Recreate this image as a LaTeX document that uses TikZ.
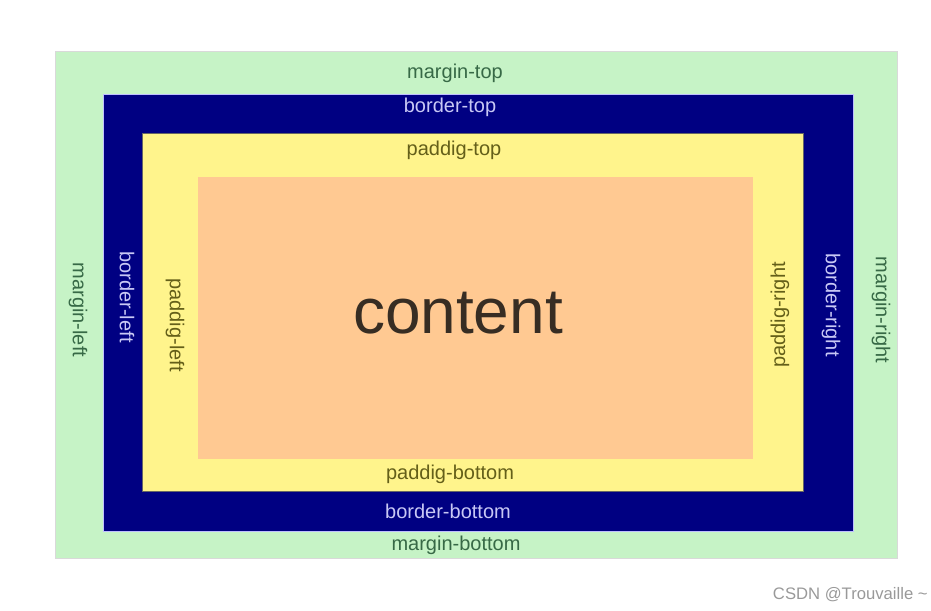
\documentclass[tikz,border=0pt]{standalone}
\usepackage{fontspec}
\setmainfont{Liberation Sans}
\usepackage{xcolor}
\usepackage{tikz}

\definecolor{margfill}{RGB}{198,243,198}
\definecolor{bordfill}{RGB}{0,0,130}
\definecolor{padfill}{RGB}{255,244,140}
\definecolor{contfill}{RGB}{255,201,146}
\definecolor{margtext}{RGB}{55,105,70}
\definecolor{bordtext}{RGB}{200,200,245}
\definecolor{padtext}{RGB}{100,95,25}
\definecolor{conttext}{RGB}{55,45,35}

\begin{document}
\begin{tikzpicture}[
      x=0.75pt, y=-0.75pt,
      lbl/.style={inner sep=0pt, font=\fontsize{15}{18}\selectfont},
      marglbl/.style={lbl, text=margtext},
      bordlbl/.style={lbl, text=bordtext},
      padlbl/.style={lbl, text=padtext}
    ]
    \useasboundingbox (0,0) rectangle (931,610);
    % the four boxes, outside in
    \fill[margfill, draw=black!15] (55,51) rectangle (897,558);
    \fill[bordfill, draw=blue!25] (103,94) rectangle (853,531);
    \fill[padfill, draw=black!60] (142,133) rectangle (803,491);
    \fill[contfill] (198,177) rectangle (753,459);
    % margin
    \node[marglbl] (mtop) at (455,73) {margin-top};
    \node[marglbl] (mbottom) at (456,545) {margin-bottom};
    \node[marglbl, rotate=-90] (mleft) at (78,310) {margin-left};
    \node[marglbl, rotate=-90] (mright) at (881,310) {margin-right};
    % border
    \node[bordlbl] (btop) at (450,107) {border-top};
    \node[bordlbl] (bbottom) at (448,511) {border-bottom};
    \node[bordlbl, rotate=-90] (bleft) at (127,297) {border-left};
    \node[bordlbl, rotate=-90] (bright) at (831,305) {border-right};
    % padding
    \node[padlbl] (ptop) at (454,150) {paddig-top};
    \node[padlbl] (pbottom) at (450,474) {paddig-bottom};
    \node[padlbl, rotate=-90] (pleft) at (175,325) {paddig-left};
    \node[padlbl, rotate=90] (pright) at (780,315) {paddig-right};
    % content
    \node[inner sep=0pt, text=conttext, font=\fontsize{48}{58}\selectfont]
      (content) at (458,313) {content};
    \node[inner sep=0pt, text=black!40, font=\fontsize{12.5}{15}\selectfont,
      anchor=east] (mark) at (928,595) {CSDN @Trouvaille \textasciitilde};
  \end{tikzpicture}
\end{document}
